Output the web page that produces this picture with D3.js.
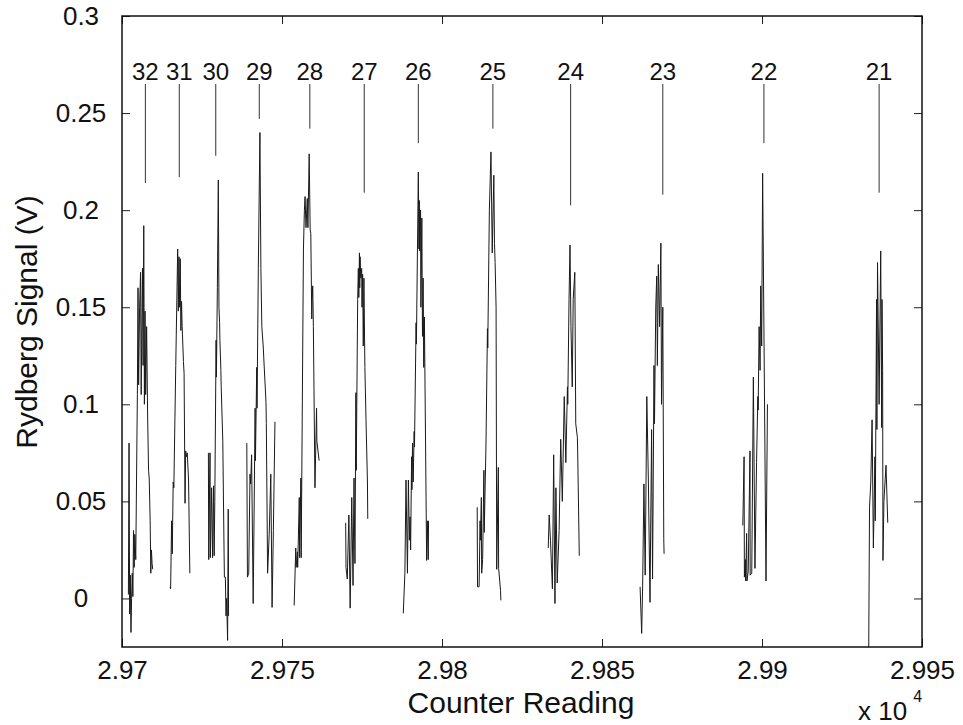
<!DOCTYPE html>
<html>
<head>
<meta charset="utf-8">
<script src="https://d3js.org/d3.v7.min.js"></script>
<style>
  body { margin: 0; background: #fff; }
  svg text { font-family: "Liberation Sans", Arial, Helvetica, sans-serif; fill: #111; }
</style>
</head>
<body>
<svg id="chart" width="963" height="725"></svg>
<script>
// tick values
const xTicks = [29700, 29750, 29800, 29850, 29900, 29950];
const yTicks = [0, 0.05, 0.1, 0.15, 0.2, 0.25, 0.3];

// peak annotations (n = principal quantum number)
const peakLabels = ["32", "31", "30", "29", "28", "27", "26", "25", "24", "23", "22", "21"];
const markerX = [29707.3, 29717.9, 29729.3, 29742.9, 29758.7, 29775.7, 29792.6, 29815.9, 29840.2, 29869.0, 29900.6, 29936.6];
const markerBottom = [0.214, 0.217, 0.228, 0.247, 0.242, 0.209, 0.2345, 0.242, 0.2025, 0.208, 0.2345, 0.209];
const markerTop = 0.265;

// scans, [counter, volts], one array per peak
const scan32 = [[29702.0, 0.002], [29702.2, 0.080], [29702.4, -0.008], [29702.6, 0.012], [29702.8, -0.0175], [29703.0, 0.000], [29703.2, 0.013], [29703.4, 0.001], [29703.6, 0.035], [29703.8, 0.016], [29704.0, 0.033], [29704.3, 0.020], [29704.8, 0.105], [29705.0, 0.160], [29705.2, 0.110], [29705.5, 0.150], [29705.8, 0.168], [29706.0, 0.105], [29706.2, 0.140], [29706.4, 0.170], [29706.6, 0.120], [29706.8, 0.192], [29707.0, 0.100], [29707.2, 0.148], [29707.4, 0.105], [29707.7, 0.140], [29708.0, 0.095], [29708.3, 0.066], [29708.5, 0.062], [29708.8, 0.040], [29709.0, 0.013], [29709.2, 0.025], [29709.4, 0.018], [29709.6, 0.015]];
const scan31 = [[29715.0, 0.006], [29715.2, 0.005], [29715.5, 0.040], [29715.7, 0.023], [29716.0, 0.060], [29716.2, 0.057], [29716.8, 0.120], [29717.2, 0.160], [29717.4, 0.180], [29717.6, 0.148], [29717.8, 0.176], [29718.0, 0.150], [29718.2, 0.175], [29718.4, 0.138], [29718.6, 0.153], [29718.8, 0.140], [29719.2, 0.122], [29719.4, 0.116], [29719.7, 0.049], [29719.9, 0.076], [29720.1, 0.073], [29720.4, 0.075], [29720.8, 0.061], [29721.2, 0.013]];
const scan30 = [[29727.0, 0.075], [29727.1, 0.020], [29727.5, 0.075], [29727.6, 0.021], [29728.0, 0.057], [29728.3, 0.021], [29728.6, 0.058], [29728.8, 0.022], [29729.0, 0.050], [29729.4, 0.133], [29729.5, 0.114], [29729.8, 0.160], [29730.1, 0.2155], [29730.3, 0.150], [29730.5, 0.142], [29730.6, 0.133], [29730.9, 0.1175], [29731.0, 0.109], [29731.5, 0.081], [29731.9, 0.023], [29732.0, 0.011], [29732.3, 0.011], [29732.5, -0.009], [29732.7, 0.000], [29733.0, -0.0216], [29733.2, 0.046], [29733.3, -0.009]];
const scan29 = [[29739.0, 0.080], [29739.2, 0.011], [29739.6, 0.013], [29740.0, 0.064], [29740.2, 0.059], [29740.5, 0.074], [29740.6, 0.058], [29741.0, -0.0026], [29741.6, 0.098], [29741.7, 0.071], [29742.1, 0.119], [29742.2, 0.098], [29742.6, 0.170], [29743.1, 0.240], [29743.4, 0.170], [29743.7, 0.140], [29744.2, 0.128], [29744.3, 0.124], [29745.0, 0.101], [29745.1, 0.090], [29745.5, 0.013], [29746.0, 0.033], [29746.5, 0.064], [29746.9, -0.0046], [29747.3, 0.035], [29747.8, 0.091]];
const scan28 = [[29753.8, -0.0036], [29754.3, 0.026], [29754.4, 0.016], [29754.8, 0.024], [29754.9, 0.016], [29755.4, 0.052], [29755.5, 0.021], [29755.9, 0.062], [29756.0, 0.021], [29756.7, 0.180], [29757.0, 0.200], [29757.2, 0.207], [29757.5, 0.191], [29757.9, 0.206], [29758.1, 0.191], [29758.5, 0.229], [29758.8, 0.190], [29759.0, 0.188], [29759.3, 0.144], [29759.4, 0.154], [29759.6, 0.161], [29759.8, 0.140], [29760.3, 0.057], [29760.8, 0.098], [29760.9, 0.081], [29761.6, 0.071]];
const scan27 = [[29769.9, 0.039], [29770.0, 0.016], [29770.4, 0.010], [29770.9, 0.043], [29771.3, -0.005], [29771.8, 0.052], [29772.2, 0.0067], [29772.5, 0.062], [29772.8, 0.018], [29773.1, 0.106], [29773.2, 0.066], [29773.65, 0.154], [29773.85, 0.170], [29774.0, 0.155], [29774.2, 0.178], [29774.3, 0.160], [29774.4, 0.176], [29774.6, 0.165], [29774.9, 0.170], [29775.0, 0.150], [29775.2, 0.167], [29775.4, 0.130], [29775.6, 0.165], [29775.9, 0.119], [29776.25, 0.092], [29776.7, 0.060], [29776.8, 0.041]];
const scan26 = [[29787.9, -0.0077], [29788.4, 0.013], [29788.75, 0.061], [29789.2, 0.013], [29789.5, 0.061], [29789.8, 0.030], [29790.0, 0.042], [29790.2, 0.025], [29790.5, 0.073], [29790.6, 0.056], [29790.8, 0.080], [29791.0, 0.060], [29791.3, 0.086], [29791.4, 0.078], [29791.9, 0.142], [29792.0, 0.131], [29792.6, 0.2196], [29792.8, 0.180], [29792.9, 0.205], [29793.0, 0.179], [29793.3, 0.200], [29793.4, 0.150], [29793.7, 0.196], [29793.9, 0.135], [29794.1, 0.165], [29794.3, 0.119], [29794.5, 0.145], [29795.2, 0.0196], [29795.4, 0.040], [29795.7, 0.020], [29795.8, 0.040]];
const scan25 = [[29811.0, 0.047], [29811.1, 0.006], [29811.6, 0.006], [29811.9, 0.040], [29812.0, 0.030], [29812.3, 0.052], [29812.4, 0.013], [29812.7, 0.020], [29813.1, 0.066], [29813.2, 0.034], [29813.75, 0.080], [29814.2, 0.139], [29814.3, 0.129], [29814.8, 0.200], [29815.3, 0.230], [29815.7, 0.178], [29816.2, 0.218], [29816.4, 0.183], [29816.6, 0.173], [29816.9, 0.150], [29817.1, 0.015], [29817.6, 0.0675], [29817.7, 0.0155], [29818.3, 0.004], [29818.4, -0.001]];
const scan24 = [[29833.2, 0.026], [29833.5, 0.043], [29833.9, 0.030], [29834.5, 0.005], [29834.9, 0.074], [29835.3, -0.0026], [29835.6, 0.057], [29836.0, 0.008], [29836.6, 0.035], [29837.1, 0.082], [29837.6, 0.050], [29838.2, 0.104], [29838.7, 0.070], [29839.2, 0.109], [29839.3, 0.100], [29839.7, 0.154], [29840.0, 0.182], [29840.3, 0.140], [29840.7, 0.109], [29841.0, 0.154], [29841.5, 0.168], [29841.8, 0.090], [29842.3, 0.083], [29842.4, 0.076], [29842.9, 0.022]];
const scan23 = [[29861.9, 0.006], [29862.4, -0.018], [29862.7, 0.006], [29863.1, 0.059], [29863.5, 0.012], [29864.0, 0.104], [29864.5, 0.060], [29865.0, -0.002], [29865.5, 0.087], [29865.8, 0.010], [29866.25, 0.120], [29866.4, 0.090], [29866.8, 0.150], [29867.1, 0.166], [29867.3, 0.120], [29867.6, 0.172], [29868.0, 0.140], [29868.4, 0.183], [29868.6, 0.100], [29869.0, 0.150], [29869.3, 0.031], [29869.4, 0.023]];
const scan22 = [[29894.0, 0.0376], [29894.4, 0.073], [29894.5, 0.011], [29894.8, 0.020], [29894.9, 0.009], [29895.2, 0.0335], [29895.3, 0.009], [29895.7, 0.014], [29896.25, 0.076], [29896.3, 0.012], [29896.8, 0.013], [29897.3, 0.114], [29897.8, 0.0155], [29898.3, 0.070], [29898.7, 0.104], [29898.8, 0.097], [29899.1, 0.140], [29899.4, 0.1175], [29899.6, 0.161], [29899.9, 0.130], [29900.2, 0.219], [29901.25, 0.009], [29901.7, 0.100]];
const scan21 = [[29933.3, -0.040], [29933.6, 0.047], [29934.0, 0.060], [29934.4, 0.092], [29934.8, 0.026], [29935.3, 0.073], [29935.4, 0.040], [29935.8, 0.154], [29935.9, 0.087], [29936.1, 0.173], [29936.6, 0.100], [29937.1, 0.179], [29937.4, 0.088], [29937.5, 0.154], [29937.7, 0.1175], [29937.8, 0.0196], [29938.1, 0.050], [29938.75, 0.0686], [29939.3, 0.039]];

const scans = [scan32, scan31, scan30, scan29, scan28, scan27, scan26, scan25, scan24, scan23, scan22, scan21];

const svg = d3.select("#chart");
const padL = 122, padR = 922, padT = 16, padB = 647;

const x = d3.scaleLinear().domain([29700, 29950]).range([padL, padR]);
const y = d3.scaleLinear().domain([-0.025, 0.3]).range([padB, padT]);

svg.append("defs").append("clipPath").attr("id", "plotArea")
  .append("rect").attr("x", padL).attr("y", padT)
  .attr("width", padR - padL).attr("height", padB - padT);

// signal trace
const line = d3.line().x(d => x(d[0])).y(d => y(d[1]));
svg.append("g").attr("clip-path", "url(#plotArea)")
  .selectAll("path").data(scans).enter().append("path")
  .attr("d", line)
  .attr("fill", "none")
  .attr("stroke", "#1a1a1a")
  .attr("stroke-width", 1)
  .attr("stroke-linejoin", "miter");

// peak marker lines + labels
const marks = svg.append("g");
peakLabels.forEach((lab, i) => {
  marks.append("line")
    .attr("x1", x(markerX[i])).attr("x2", x(markerX[i]))
    .attr("y1", y(markerTop)).attr("y2", y(markerBottom[i]))
    .attr("stroke", "#333").attr("stroke-width", 1);
  marks.append("text")
    .attr("x", x(markerX[i])).attr("y", y(markerTop) - 4)
    .attr("text-anchor", "middle")
    .attr("font-size", 24)
    .text(lab);
});

// axes, MATLAB style: ticks pointing in on all four sides
const tick = 8;
const fmtX = d => d3.format("")(+(d / 1e4).toFixed(4));

const gx = svg.append("g").attr("transform", `translate(0,${padB})`)
  .call(d3.axisBottom(x).tickValues(xTicks).tickSizeInner(-tick).tickSizeOuter(0).tickPadding(14).tickFormat(fmtX));
svg.append("g").attr("transform", `translate(0,${padT})`)
  .call(d3.axisTop(x).tickValues(xTicks).tickSizeInner(-tick).tickSizeOuter(0).tickFormat(""));
const gy = svg.append("g").attr("transform", `translate(${padL},0)`)
  .call(d3.axisLeft(y).tickValues(yTicks).tickSizeInner(-tick).tickSizeOuter(0).tickFormat(d3.format("")));
svg.append("g").attr("transform", `translate(${padR},0)`)
  .call(d3.axisRight(y).tickValues(yTicks).tickSizeInner(-tick).tickSizeOuter(0).tickFormat(""));

svg.selectAll(".domain").remove();
svg.selectAll(".tick line").attr("stroke", "#222").attr("stroke-width", 1);
gx.selectAll("text").attr("font-size", 26).attr("fill", "#111");
gy.selectAll("text").attr("font-size", 26).attr("fill", "#111")
  .attr("text-anchor", "middle").attr("x", -41);

// box
svg.append("rect")
  .attr("x", padL).attr("y", padT)
  .attr("width", padR - padL).attr("height", padB - padT)
  .attr("fill", "none").attr("stroke", "#111").attr("stroke-width", 1.5);

// axis titles
svg.append("text")
  .attr("x", 521).attr("y", 713)
  .attr("text-anchor", "middle").attr("font-size", 30)
  .text("Counter Reading");

svg.append("text")
  .attr("transform", `translate(37,322) rotate(-90)`)
  .attr("text-anchor", "middle").attr("font-size", 30)
  .text("Rydberg Signal (V)");

const mult = svg.append("text")
  .attr("x", 858).attr("y", 720)
  .attr("font-size", 26);
mult.append("tspan").text("x 10");
mult.append("tspan").attr("dx", 6).attr("dy", -18).attr("font-size", 16).text("4");
</script>
</body>
</html>
